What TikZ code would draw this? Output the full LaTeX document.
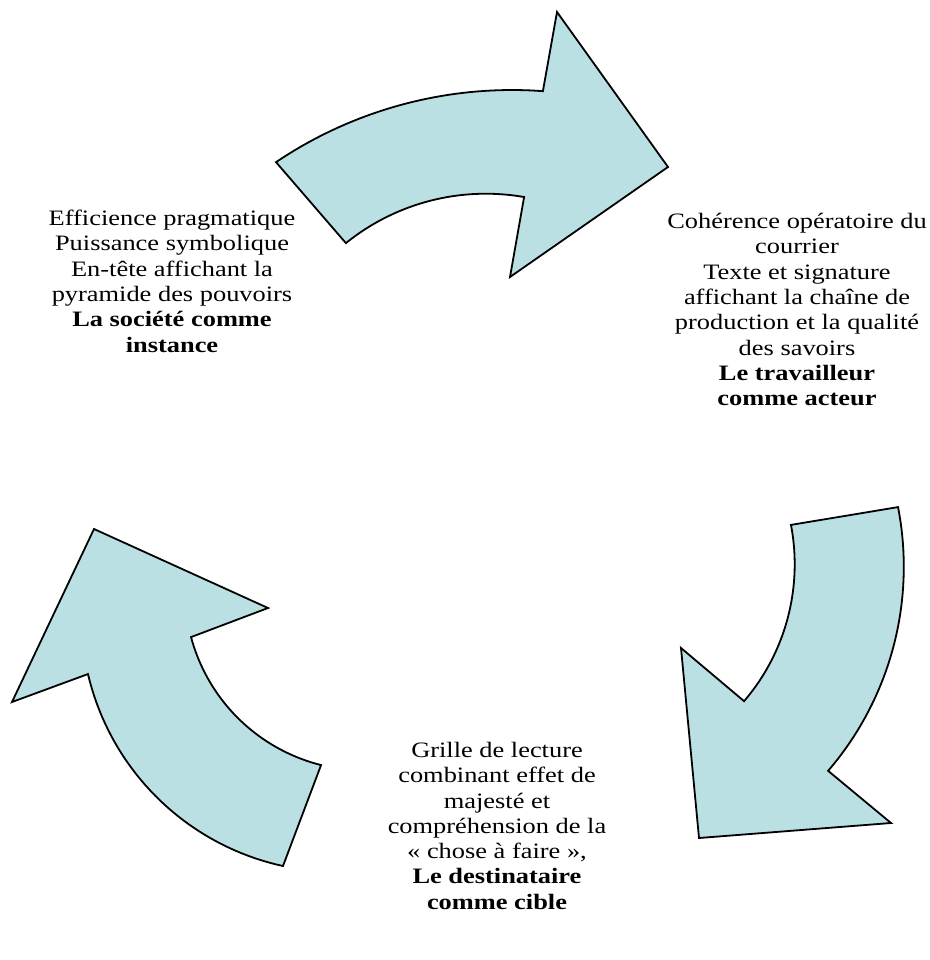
\documentclass[tikz,border=0pt]{standalone}
\usepackage{fontspec}
\setmainfont{Liberation Serif}[FakeStretch=1.2]
\definecolor{arrowfill}{RGB}{187,224,227}
\begin{document}
\begin{tikzpicture}[x=1pt,y=-1pt,
  arrowshape/.style={fill=arrowfill,draw=black,line width=1.8pt,line join=miter},
  lbl/.style={align=center,font=\fontsize{22}{25.3}\selectfont,inner sep=0pt}]
\useasboundingbox (0,0) rectangle (929,960);
% top arrow
\path[arrowshape] (510,277) -- (668,167) -- (557,12)
  -- plot[domain=-85.8:-124,samples=40] ({512+422*cos(\x)},{512+422*sin(\x)})
  -- plot[domain=-128.9:-80.1,samples=40] ({485.8+222.8*cos(\x)},{416.5+222.8*sin(\x)})
  -- cycle;
% right arrow
\path[arrowshape] (891,823) -- (699,838) -- (681,648)
  -- plot[domain=40.6:-10.8,samples=40] ({584.4+210.3*cos(\x)},{564.3+210.3*sin(\x)})
  -- plot[domain=-11:40.7,samples=40] ({590.9+312.9*cos(\x)},{566.8+312.9*sin(\x)})
  -- cycle;
% left arrow
\path[arrowshape] (94,529) -- (268,608)
  -- plot[domain=165:104.1,samples=40] ({364.9+180*cos(\x)},{590.5+180*sin(\x)})
  -- plot[domain=102.3:166.8,samples=40] ({337.6+256.4*cos(\x)},{615.5+256.4*sin(\x)})
  -- (12,702) -- cycle;
% texts
\node[lbl,anchor=north] (soc) at (172,210) {Efficience pragmatique\\Puissance symbolique\\En-tête affichant la\\pyramide des pouvoirs\\\textbf{La société comme}\\\textbf{instance}};
\node[lbl,anchor=north] (trav) at (797,213) {Cohérence opératoire du\\courrier\\Texte et signature\\affichant la chaîne de\\production et la qualité\\des savoirs\\\textbf{Le travailleur}\\\textbf{comme acteur}};
\node[lbl,anchor=north] (dest) at (497,742) {Grille de lecture\\combinant effet de\\majesté et\\compréhension de la\\« chose à faire »,\\\textbf{Le destinataire}\\\textbf{comme cible}};
\end{tikzpicture}
\end{document}
